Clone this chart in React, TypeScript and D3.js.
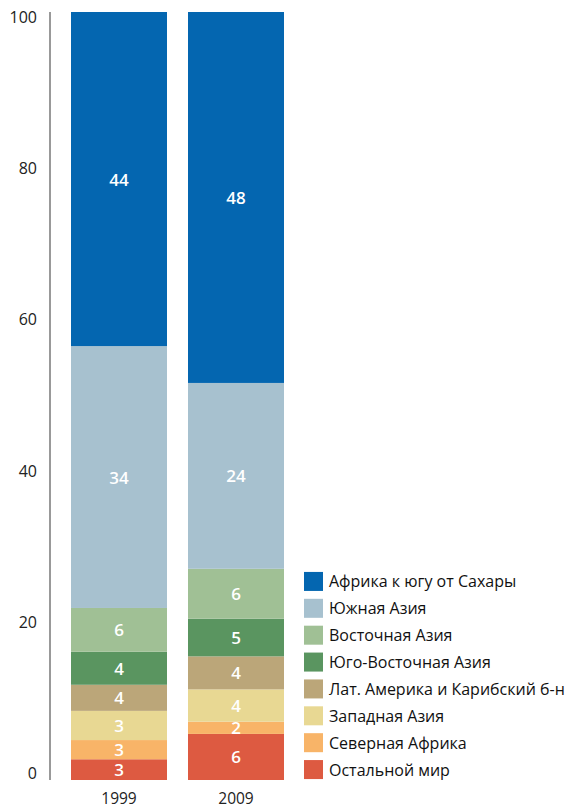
import React from "react";
import * as d3 from "d3";

const years = ["1999", "2009"];
const regions = [
  "Остальной мир",
  "Северная Африка",
  "Западная Азия",
  "Лат. Америка и Карибский б-н",
  "Юго-Восточная Азия",
  "Восточная Азия",
  "Южная Азия",
  "Африка к югу от Сахары",
];
const colors = ["#DD5A41", "#F8B468", "#E8D893", "#BBA679", "#5A9560", "#A0C095", "#A7C1CF", "#0466B0"];
// shares (% of total), bottom to top
const values1999 = [2.7, 2.5, 3.8, 3.4, 4.3, 5.7, 34.1, 43.5];
const values2009 = [6.0, 1.6, 4.2, 4.3, 4.9, 6.5, 24.2, 48.3];
const labels1999 = ["3", "3", "3", "4", "4", "6", "34", "44"];
const labels2009 = ["6", "2", "4", "4", "5", "6", "24", "48"];
const yTicks = [0, 20, 40, 60, 80, 100];

const W = 578;
const H = 808;
const FONT = "'Open Sans', sans-serif";

export default function App() {
  const y = d3.scaleLinear().domain([0, 100]).range([780, 12]);
  const yLab = d3.scaleLinear().domain([0, 100]).range([773, 17]);
  const x = d3.scaleBand().domain(years).range([71, 284]).paddingInner(21 / 117).paddingOuter(0);
  const series = [values1999, values2009];
  const labs = [labels1999, labels2009];
  const legendOrder = regions.map((_, i) => regions.length - 1 - i);
  const ly = d3.scaleBand().domain(legendOrder.map(String)).range([568, 783]);

  return (
    <svg width={W} height={H} style={{ position: "absolute", left: 0, top: 0, background: "#fff" }}>
      <line x1={50} x2={50} y1={y(100)} y2={y(0)} stroke="#777" strokeWidth={1.5} />
      {yTicks.map((t) => (
        <text key={t} x={37} y={yLab(t)} textAnchor="end" dominantBaseline="central" fontFamily={FONT} fontSize={16} fill="#222">
          {t}
        </text>
      ))}
      {years.map((yr, k) => {
        let acc = 0;
        const bw = x.bandwidth();
        const x0 = x(yr)!;
        return (
          <g key={yr}>
            {series[k].map((v, i) => {
              const y0 = acc;
              acc += v;
              const top = y(acc);
              const bot = y(y0);
              return (
                <g key={i}>
                  <rect x={x0} y={top} width={bw} height={bot - top} fill={colors[i]} />
                  <text x={x0 + bw / 2} y={(top + bot) / 2} textAnchor="middle" dominantBaseline="central" fontFamily={FONT} fontWeight={600} fontSize={17} fill="#fff">
                    {labs[k][i]}
                  </text>
                </g>
              );
            })}
            <text x={x0 + bw / 2} y={798} textAnchor="middle" dominantBaseline="central" fontFamily={FONT} fontSize={15.5} fill="#222">
              {yr}
            </text>
          </g>
        );
      })}
      {legendOrder.map((i) => {
        const yy = ly(String(i))! + ly.bandwidth() / 2;
        return (
          <g key={i}>
            <rect x={304} y={yy - 9.5} width={19} height={19} fill={colors[i]} />
            <text x={329} y={yy} dominantBaseline="central" fontFamily={FONT} fontSize={16} fill="#111">
              {regions[i]}
            </text>
          </g>
        );
      })}
    </svg>
  );
}
